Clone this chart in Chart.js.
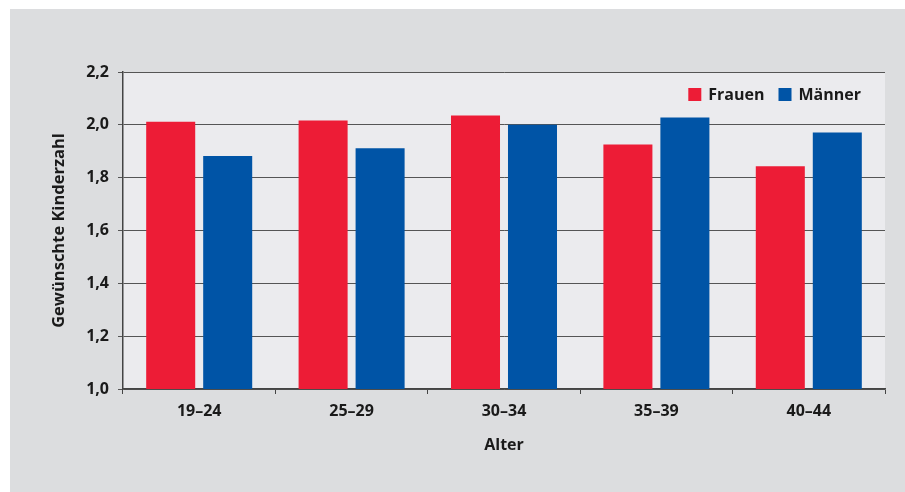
<!DOCTYPE html>
<html><head><meta charset="utf-8">
<script src="https://cdn.jsdelivr.net/npm/chart.js@4"></script>
<style>
html,body{margin:0;padding:0;background:#fff;width:905px;height:492px;overflow:hidden}
#wrap{position:absolute;left:10px;top:9px;width:895px;height:483px;background:#dcdddf}
canvas{display:block}
</style></head><body>
<div id="wrap"><canvas id="c" width="895" height="483"></canvas></div>
<script>
const categories = ['19–24','25–29','30–34','35–39','40–44'];
const frauen = [2.012, 2.016, 2.035, 1.926, 1.843];
const maenner = [1.882, 1.911, 2.000, 2.028, 1.971];
const yTicks = [1.0,1.2,1.4,1.6,1.8,2.0,2.2];

const FONT = "'Open Sans', 'Noto Sans', sans-serif";
const plotBg = {
  id:'plotBg',
  beforeDraw(chart){
    const {ctx, chartArea:a} = chart;
    ctx.save(); ctx.fillStyle='#ebebee';
    ctx.fillRect(a.left,a.top,a.right-a.left,a.bottom-a.top); ctx.restore();
  }
};
const innerLegend = {
  id:'innerLegend',
  afterDatasetsDraw(chart){
    const {ctx, chartArea:a} = chart;
    ctx.save();
    ctx.font = "bold 16px " + FONT;
    ctx.textBaseline='middle';
    const items = chart.data.datasets.map(d=>({t:d.label,c:d.backgroundColor}));
    const box=13, gap=7, between=14;
    let w=0; items.forEach((it,i)=>{w+=box+gap+ctx.measureText(it.t).width+(i<items.length-1?between:0);});
    let x=a.right-24-w; const y=a.top+22.5;
    items.forEach(it=>{
      ctx.fillStyle=it.c; ctx.fillRect(x,y-box/2,box,box);
      x+=box+gap; ctx.fillStyle='#1a1a1a'; ctx.fillText(it.t,x,y+1);
      x+=ctx.measureText(it.t).width+between;
    });
    ctx.restore();
  }
};
new Chart(document.getElementById('c'),{
  type:'bar',
  data:{labels:categories,datasets:[
    {label:'Frauen',data:frauen,backgroundColor:'#ed1c36'},
    {label:'Männer',data:maenner,backgroundColor:'#0054a6'}
  ]},
  options:{
    responsive:false,animation:false,
    layout:{padding:{left:39,right:20,top:63,bottom:37}},
    datasets:{bar:{categoryPercentage:0.748,barPercentage:0.86}},
    plugins:{legend:{display:false},tooltip:{enabled:false}},
    scales:{
      x:{
        offset:true,
        grid:{offset:true,drawOnChartArea:false,drawTicks:true,tickLength:5,color:'#444',lineWidth:1},
        border:{color:'#444',width:1.5},
        ticks:{color:'#1a1a1a',font:{family:FONT,size:16,weight:'bold'},padding:8},
        title:{display:true,text:'Alter',color:'#1a1a1a',font:{family:FONT,size:16,weight:'bold'},padding:{top:0,bottom:0}},
        afterFit(s){s.height=66;}
      },
      y:{
        min:1.0,max:2.2,
        afterBuildTicks(s){s.ticks=yTicks.map(v=>({value:v}));},
        grid:{color:'#555',lineWidth:1,tickLength:5},
        border:{color:'#444',width:1.5},
        ticks:{color:'#1a1a1a',font:{family:FONT,size:16,weight:'bold'},padding:9,
          callback:v=>v.toFixed(1).replace('.',',')},
        title:{display:true,text:'Gewünschte Kinderzahl',color:'#1a1a1a',font:{family:FONT,size:16.5,weight:'bold'},padding:0},
        afterFit(s){s.width=74;}
      }
    }
  },
  plugins:[plotBg,innerLegend]
});
</script></body></html>
